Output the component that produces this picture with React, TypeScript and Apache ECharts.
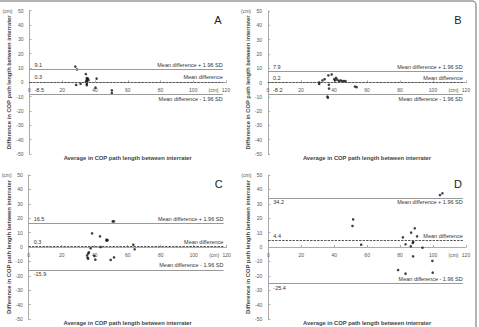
import React, { useEffect, useRef } from "react";
import * as echarts from "echarts";

const xTicks = [0, 20, 40, 60, 80, 100, 120];
const yRange = [-50, 50];

const pointsA = [
  [28, 11], [29, 9], [28.5, -1.8], [31.2, -1], [34.4, 5.8], [35, 3], [35, 2], [35, 1], [35, 0],
  [35, -1], [35, -2], [34.5, 0.5], [36, 1.5], [35.7, 2.6], [41, 2.6], [40.3, -3.7], [50.3, -5.6], [50.3, -7.5],
];
const pointsB = [
  [31, -1], [31, 0], [33, 1.4], [34.3, 2.3], [36.6, 4.9], [38.6, 5.6], [36.9, -1.6], [37, -4.2],
  [36, -9.8], [36.3, -10.6], [40.2, 2.3], [41.2, 3.3], [40.6, 1.5], [42, 2], [43, 1], [44, 1.5],
  [45, 1], [46, 1], [47, 1], [52.7, -2.8], [53.7, -3.2],
];
const pointsC = [
  [38.4, 9.5], [43.2, 7.4], [47.2, 5.1], [47.2, 4.4], [47.8, 4.7], [50.9, 17.8], [51.7, 17.8],
  [43.6, 0], [37.5, -0.9], [36.5, -3.7], [36.1, -4.4], [35.4, -5.8], [35.7, -7.4], [36, -8.1],
  [39.8, -6.2], [40.4, -8.8], [49.7, -9], [51.7, -7.2], [63.4, 1.6], [64.2, -1.6],
];
const pointsD = [
  [51.5, 19.2], [51.1, 14.6], [56.4, 1.6], [78.8, -16], [83.3, -18.5], [81.7, 6.7], [83.3, 1.9],
  [86.7, 10], [88.9, 13], [87.7, 2.8], [88, 3.5], [86.5, 0.5], [87.9, -6.5], [90.3, 7.4],
  [93.6, -0.5], [99.6, -9.7], [99.8, -17.8], [104.2, 36.1], [105.7, 37.3],
];

const limitsA = [9.1, 0.3, -8.5];
const limitsB = [7.9, 0.2, -8.2];
const limitsC = [16.5, 0.3, -15.9];
const limitsD = [34.2, 4.4, -25.4];

const levelNames = ["Mean difference + 1.96 SD", "Mean difference", "Mean difference - 1.96 SD"];
const panelLetters = ["A", "B", "C", "D"];
const xTitle = "Average in COP path length between interrater";
const yTitle = "Difference in COP path length between interrater";
const lineEnd = 118;

const panels = [pointsA, pointsB, pointsC, pointsD];
const limits = [limitsA, limitsB, limitsC, limitsD];

// layout / style (not data)
const grids = [
  { left: 29.5, top: 10.7, width: 196.5, height: 143.3 },
  { left: 268, top: 11, width: 198, height: 143 },
  { left: 28.7, top: 175, width: 198, height: 144 },
  { left: 268.3, top: 175, width: 197.7, height: 144 },
];
// [valueSide, textSide] per level
const placements = [
  [["top", "top"], ["top", "top"], ["top", "bottom"]],
  [["top", "top"], ["top", "top"], ["top", "bottom"]],
  [["top", "top"], ["top", "top"], ["bottom", "top"]],
  [["bottom", "bottom"], ["top", "top"], ["bottom", "top"]],
];

const FONT = "Liberation Sans, Arial, sans-serif";

export default function App() {
  const ref = useRef<HTMLDivElement>(null);
  useEffect(() => {
    document.body.style.margin = "0";
    const chart = echarts.init(ref.current!, null, { renderer: "svg" });

    const xAxis: any[] = [];
    const yAxis: any[] = [];
    const series: any[] = [];
    const graphic: any[] = [
      {
        type: "rect",
        shape: { x: -4, y: 1, width: 480, height: 340, r: 4 },
        style: { fill: "none", stroke: "#9a9a9a", lineWidth: 1.5 },
        silent: true,
      },
    ];

    grids.forEach((g, i) => {
      xAxis.push({
        type: "value",
        gridIndex: i,
        min: xTicks[0],
        max: xTicks[xTicks.length - 1],
        interval: 20,
        position: "bottom",
        offset: -g.height / 2,
        axisLine: { onZero: false, lineStyle: { color: "#aaa", width: 1 } },
        axisTick: { show: true, length: 2, inside: true, lineStyle: { color: "#aaa" } },
        axisLabel: { fontSize: 5, color: "#555", fontFamily: FONT, margin: 5 },
        splitLine: { show: false },
      });
      yAxis.push({
        type: "value",
        gridIndex: i,
        min: yRange[0],
        max: yRange[1],
        interval: 10,
        name: yTitle,
        nameLocation: "middle",
        nameGap: 15,
        nameTextStyle: { fontSize: 5.8, fontWeight: "bold", color: "#444", fontFamily: FONT },
        axisLine: { show: true, onZero: false, lineStyle: { color: "#aaa", width: 1 } },
        axisTick: { show: true, length: 2, inside: true, lineStyle: { color: "#aaa" } },
        axisLabel: { fontSize: 5, color: "#555", fontFamily: FONT, margin: 6 },
        splitLine: { show: false },
      });

      const lv = limits[i];
      const mlData: any[] = [];
      lv.forEach((v, k) => {
        const isMean = k === 1;
        const ls = isMean
          ? { color: "#555", width: 1, type: [2, 1.5] }
          : { color: "#9a9a9a", width: 1, type: "solid" };
        const [vp, tp] = placements[i][k];
        const lblStyle = { fontSize: 5.5, color: "#333", fontFamily: FONT };
        mlData.push([
          {
            coord: [xTicks[0], v],
            lineStyle: ls,
            label: {
              show: true,
              formatter: String(v),
              position: vp === "top" ? "insideStartTop" : "insideStartBottom",
              distance: [5, 1.5],
              ...lblStyle,
            },
          },
          { coord: [lineEnd, v] },
        ]);
        mlData.push([
          {
            coord: [xTicks[0], v],
            lineStyle: ls,
            label: {
              show: true,
              formatter: levelNames[k],
              position: tp === "top" ? "insideEndTop" : "insideEndBottom",
              distance: [0, 1.5],
              ...lblStyle,
            },
          },
          { coord: [lineEnd, v] },
        ]);
      });

      series.push({
        type: "scatter",
        xAxisIndex: i,
        yAxisIndex: i,
        data: panels[i],
        symbol: "circle",
        symbolSize: 2.6,
        itemStyle: { color: "#111" },
        markLine: { symbol: "none", silent: true, animation: false, data: mlData },
      });

      const cx = g.left + g.width / 2;
      graphic.push({
        type: "text",
        x: cx,
        y: g.top + g.height + 4,
        style: {
          text: xTitle,
          fontSize: 5.8,
          fontWeight: "bold",
          fill: "#444",
          fontFamily: FONT,
          textAlign: "center",
          textVerticalAlign: "middle",
        },
      });
      graphic.push({
        type: "text",
        x: g.left - 27,
        y: g.top,
        style: {
          text: "(cm)",
          fontSize: 5,
          fill: "#555",
          fontFamily: FONT,
          textAlign: "left",
          textVerticalAlign: "middle",
        },
      });
      graphic.push({
        type: "text",
        x: g.left + g.width - 7.5,
        y: g.top + g.height / 2 + 7.5,
        style: {
          text: "(cm)",
          fontSize: 5,
          fill: "#555",
          fontFamily: FONT,
          textAlign: "right",
          textVerticalAlign: "middle",
        },
      });
      graphic.push({
        type: "text",
        x: g.left + g.width - 8,
        y: g.top + 9,
        style: {
          text: panelLetters[i],
          fontSize: 11,
          fill: "#222",
          fontFamily: FONT,
          textAlign: "center",
          textVerticalAlign: "middle",
        },
      });
    });

    chart.setOption({
      animation: false,
      backgroundColor: "#fff",
      grid: grids.map((g) => ({ ...g, containLabel: false })),
      xAxis,
      yAxis,
      series,
      graphic,
    });
    return () => chart.dispose();
  }, []);
  return <div ref={ref} style={{ width: 479, height: 327 }} />;
}
